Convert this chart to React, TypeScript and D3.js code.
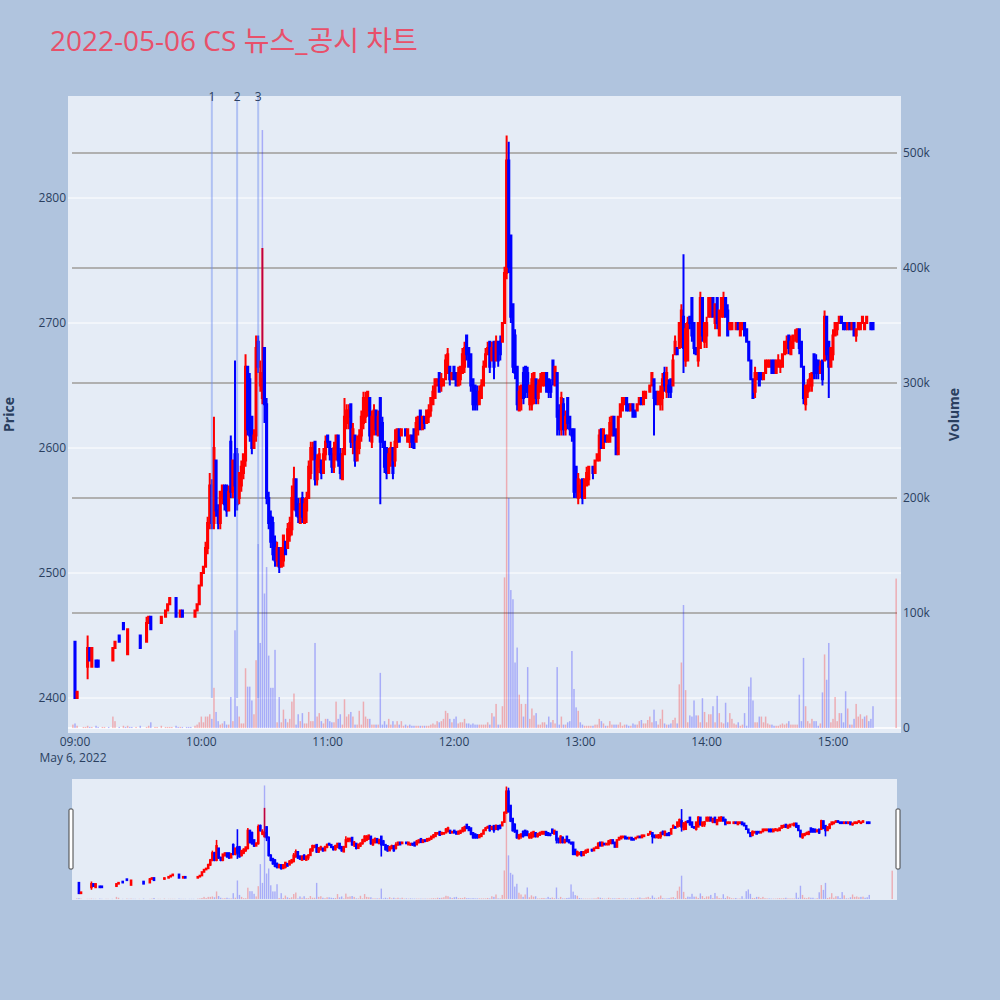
import React from "react";
import * as d3 from "d3";

// ---------- DATA (1-minute candles, minutes after 09:00) ----------
const earlyMinutes = [-1,0,1,4,5,6,7,8,10,11,13,14,16,18,19,21,23,24,25,26,27,29,31,34,35,36,38,39,41,43,44,45,46,48,49,50,51,53,54,55,57,58,59];
const minuteIdx = [...earlyMinutes, ...d3.range(60, 380), 390];

const openP = [
2450,2445,2400,2430,2430,2425,2440,2425,2430,2430,
2430,2430,2425,2430,2440,2450,2460,2445,2435,2435,
2435,2440,2450,2445,2460,2465,2460,2460,2460,2465,
2470,2475,2480,2480,2465,2465,2470,2465,2465,2465,
2465,2470,2475,
2490,2500,2505,2520,2540,2570,2540,2590,2550,2540,
2560,2570,2570,2550,2605,2565,2595,2595,2560,2570,
2580,2590,2665,2655,2625,2600,2610,2685,2650,2640,
2680,2635,2560,2545,2540,2525,2510,2520,2505,2510,
2525,2520,2530,2535,2555,2575,2555,2540,2560,2540,
2550,2560,2580,2595,2605,2575,2585,2590,2580,2595,
2610,2605,2595,2585,2595,2610,2595,2575,2595,2620,
2625,2635,2605,2610,2590,2600,2610,2620,2625,2630,
2640,2605,2615,2630,2610,2640,2620,2605,2600,2580,
2590,2600,2590,2605,2615,2610,2615,2615,2605,2605,
2610,2615,2605,2615,2630,2615,2625,2620,2625,2630,
2635,2640,2650,2660,2650,2650,2655,2660,2665,2655,
2665,2660,2650,2655,2660,2665,2690,2680,2675,2655,
2650,2645,2635,2640,2650,2665,2675,2685,2670,2685,
2670,2685,2685,2685,2700,2740,2830,2770,2715,2690,
2665,2630,2640,2660,2665,2660,2635,2635,2640,2655,
2640,2645,2650,2650,2660,2655,2650,2670,2650,2660,
2630,2615,2635,2615,2640,2625,2615,2615,2585,2560,
2565,2575,2560,2570,2575,2585,2585,2580,2590,2590,
2615,2600,2610,2605,2605,2610,2625,2615,2595,2625,
2630,2635,2640,2635,2630,2635,2630,2630,2635,2640,
2635,2640,2645,2645,2650,2655,2645,2635,2635,2640,
2660,2645,2650,2655,2650,2675,2680,2680,2685,2705,
2670,2670,2705,2720,2700,2680,2670,2680,2720,2685,
2690,2705,2705,2720,2700,2720,2690,2705,2705,2720,
2710,2695,2695,2700,2695,2700,2690,2695,2700,2695,
2685,2670,2655,2645,2655,2660,2660,2655,2660,2665,
2665,2670,2670,2660,2665,2665,2665,2675,2680,2690,
2675,2680,2690,2685,2695,2685,2665,2635,2645,2650,
2650,2675,2670,2670,2660,2670,2670,2705,2685,2665,
2675,2690,2695,2700,2705,2700,2700,2695,2700,2695,
2700,2690,2695,2695,2700,2695,2700,2700,2700,2700,
2715];

const highP = [
2450,2445,2405,2430,2430,2450,2440,2440,2430,2430,
2430,2430,2425,2440,2445,2450,2460,2445,2455,2435,
2435,2440,2450,2465,2465,2465,2460,2460,2465,2470,
2475,2480,2480,2480,2465,2470,2470,2465,2465,2465,
2470,2475,2490,
2500,2505,2525,2545,2580,2575,2625,2590,2555,2565,
2570,2570,2570,2570,2610,2590,2670,2600,2580,2590,
2595,2675,2665,2660,2625,2615,2690,2690,2670,2760,
2680,2640,2565,2550,2545,2530,2525,2520,2520,2530,
2525,2540,2545,2570,2585,2575,2560,2560,2565,2560,
2565,2590,2605,2605,2605,2595,2600,2590,2600,2610,
2610,2605,2600,2605,2610,2610,2600,2600,2640,2635,
2635,2635,2620,2610,2610,2615,2630,2645,2645,2645,
2640,2630,2635,2630,2630,2640,2625,2605,2600,2600,
2605,2600,2615,2615,2615,2615,2615,2615,2615,2610,
2610,2615,2625,2625,2630,2625,2625,2630,2635,2640,
2650,2655,2655,2660,2660,2655,2675,2680,2665,2660,
2665,2660,2665,2665,2680,2685,2690,2680,2675,2655,
2650,2650,2650,2655,2670,2680,2685,2685,2685,2685,
2690,2685,2690,2700,2745,2850,2845,2770,2715,2695,
2665,2650,2650,2665,2665,2665,2650,2660,2660,2655,
2655,2660,2660,2660,2660,2655,2655,2670,2665,2660,
2635,2645,2640,2630,2640,2625,2615,2615,2585,2580,
2575,2575,2575,2585,2585,2585,2585,2590,2595,2615,
2615,2615,2610,2610,2625,2625,2625,2615,2625,2635,
2640,2640,2640,2635,2635,2635,2630,2635,2640,2640,
2645,2645,2645,2650,2660,2655,2645,2645,2650,2660,
2665,2665,2655,2655,2675,2690,2680,2700,2715,2755,
2700,2705,2705,2720,2700,2680,2700,2725,2720,2700,
2705,2720,2720,2720,2715,2720,2710,2720,2725,2720,
2715,2700,2700,2700,2700,2700,2700,2700,2700,2695,
2685,2670,2655,2665,2660,2660,2660,2660,2670,2670,
2670,2670,2670,2670,2675,2670,2675,2685,2690,2690,
2690,2690,2695,2695,2695,2685,2665,2650,2655,2660,
2660,2675,2675,2670,2670,2670,2710,2705,2685,2680,
2695,2700,2700,2705,2705,2700,2700,2700,2700,2700,
2700,2695,2700,2700,2705,2700,2705,2700,2700,2700,
2715];

const lowP = [
2450,2400,2400,2430,2430,2415,2430,2425,2425,2425,
2430,2430,2425,2430,2440,2445,2455,2445,2435,2435,
2435,2440,2440,2445,2460,2455,2460,2460,2460,2465,
2470,2475,2480,2465,2465,2465,2465,2465,2465,2465,
2465,2470,2475,
2490,2500,2505,2515,2535,2535,2535,2545,2535,2535,
2555,2550,2545,2550,2560,2560,2545,2550,2555,2565,
2575,2585,2610,2605,2595,2600,2605,2660,2645,2635,
2620,2555,2535,2520,2510,2505,2505,2500,2505,2505,
2515,2520,2525,2530,2550,2545,2540,2540,2540,2540,
2540,2560,2575,2590,2570,2570,2580,2575,2580,2590,
2600,2590,2580,2580,2590,2585,2575,2575,2595,2615,
2615,2600,2595,2585,2590,2595,2605,2615,2620,2625,
2605,2600,2610,2610,2610,2555,2600,2580,2575,2580,
2585,2575,2585,2600,2605,2610,2615,2610,2605,2600,
2600,2600,2605,2610,2615,2615,2615,2620,2620,2625,
2635,2640,2650,2645,2645,2650,2655,2660,2650,2655,
2655,2650,2650,2650,2660,2660,2670,2665,2645,2630,
2630,2630,2635,2640,2650,2665,2675,2660,2670,2655,
2670,2665,2670,2685,2700,2735,2740,2700,2660,2655,
2630,2630,2630,2635,2640,2640,2630,2630,2635,2635,
2635,2645,2650,2650,2645,2640,2640,2650,2650,2610,
2610,2610,2610,2610,2615,2610,2605,2560,2560,2555,
2560,2555,2560,2570,2570,2585,2575,2580,2590,2590,
2600,2600,2605,2605,2605,2610,2610,2595,2595,2625,
2630,2635,2630,2630,2630,2625,2625,2630,2635,2635,
2635,2640,2645,2645,2650,2610,2635,2635,2630,2630,
2645,2640,2640,2640,2650,2675,2675,2680,2680,2660,
2665,2670,2695,2685,2675,2675,2665,2680,2685,2680,
2680,2705,2705,2705,2695,2695,2690,2705,2705,2705,
2690,2695,2695,2700,2695,2695,2690,2695,2690,2685,
2670,2655,2640,2640,2655,2650,2655,2655,2660,2665,
2665,2660,2660,2660,2665,2660,2665,2675,2675,2675,
2675,2680,2685,2685,2675,2665,2635,2630,2640,2645,
2645,2655,2655,2655,2660,2650,2670,2670,2640,2665,
2670,2690,2690,2700,2700,2695,2695,2695,2695,2695,
2690,2685,2695,2695,2700,2695,2700,2700,2695,2695,
2715];

const closeP = [
2450,2400,2405,2430,2430,2440,2430,2440,2425,2425,
2430,2430,2425,2440,2445,2445,2455,2445,2455,2435,
2435,2440,2440,2460,2465,2455,2460,2460,2465,2470,
2475,2480,2480,2465,2465,2470,2465,2465,2465,2465,
2470,2475,2490,
2500,2505,2520,2540,2570,2540,2600,2550,2540,2565,
2570,2555,2550,2565,2565,2590,2570,2555,2580,2585,
2595,2665,2615,2610,2600,2610,2680,2665,2660,2655,
2635,2560,2540,2525,2515,2510,2520,2505,2520,2530,
2515,2535,2540,2560,2575,2550,2545,2555,2545,2555,
2560,2585,2600,2600,2575,2590,2595,2580,2595,2605,
2605,2595,2585,2600,2610,2590,2580,2595,2625,2630,
2630,2605,2615,2590,2605,2610,2625,2640,2640,2645,
2610,2625,2630,2615,2625,2605,2605,2585,2580,2595,
2600,2580,2605,2615,2605,2615,2615,2610,2615,2610,
2605,2600,2620,2625,2615,2625,2620,2630,2630,2640,
2645,2655,2655,2645,2655,2655,2670,2675,2655,2660,
2655,2650,2660,2665,2675,2680,2675,2665,2650,2635,
2635,2635,2645,2650,2665,2675,2680,2665,2680,2665,
2685,2670,2675,2700,2740,2830,2745,2705,2665,2660,
2635,2645,2650,2640,2645,2645,2650,2655,2660,2640,
2650,2655,2660,2660,2645,2645,2645,2655,2665,2625,
2615,2640,2615,2625,2620,2615,2610,2565,2565,2575,
2570,2560,2575,2580,2585,2585,2580,2590,2595,2610,
2600,2615,2605,2610,2620,2625,2610,2595,2625,2635,
2640,2640,2630,2630,2635,2625,2625,2635,2640,2635,
2645,2645,2645,2650,2660,2640,2635,2645,2645,2655,
2650,2660,2645,2645,2670,2685,2675,2700,2710,2680,
2695,2700,2700,2690,2680,2675,2700,2720,2690,2700,
2700,2720,2720,2705,2715,2700,2710,2720,2720,2705,
2690,2700,2700,2700,2700,2695,2700,2700,2690,2685,
2670,2655,2640,2660,2660,2650,2655,2660,2670,2670,
2670,2660,2660,2670,2670,2670,2675,2685,2685,2680,
2685,2690,2690,2695,2680,2665,2640,2650,2650,2655,
2660,2660,2660,2660,2665,2655,2705,2675,2665,2680,
2690,2700,2700,2705,2700,2695,2695,2700,2695,2700,
2690,2695,2700,2700,2705,2700,2705,2700,2695,2695,
2715];

// volume in thousands
const volK = [
3,4,2,1,1,2,1,1,2,1,
1,1,1,10,6,1,2,1,2,1,
1,1,2,1,2,5,1,1,2,1,
1,1,1,2,1,1,1,1,1,1,
2,3,5,
10,5,10,10,12,8,35,14,6,3,
4,6,3,3,27,6,85,19,10,4,
4,52,36,36,24,12,59,160,74,520,
117,140,63,35,35,68,5,27,5,16,
8,5,8,23,30,3,12,6,13,4,
4,14,6,6,74,10,13,6,4,8,
8,6,5,5,23,8,12,3,25,10,
12,14,10,3,3,15,3,23,10,8,
8,3,3,3,3,48,3,6,3,8,
3,6,3,6,3,6,2,3,2,3,
2,2,2,2,2,2,2,2,2,3,
4,3,6,5,6,8,15,13,8,5,
8,10,4,5,5,8,4,4,3,4,
3,3,3,3,3,3,5,3,13,10,
21,3,3,19,131,400,200,120,112,57,
70,29,21,10,21,53,8,17,11,13,
3,3,5,5,3,10,5,7,4,53,
3,10,3,3,5,6,67,34,18,15,
5,3,2,2,2,2,2,3,3,8,
6,4,2,2,6,3,3,3,3,5,
2,3,3,2,2,4,3,3,6,7,
4,4,7,10,5,16,6,3,8,16,
4,3,3,4,7,9,4,38,57,107,
33,5,11,10,24,11,11,5,26,14,
5,12,12,19,5,28,13,5,4,22,
5,13,8,4,3,5,2,3,13,2,
36,44,24,5,5,10,10,5,10,4,
3,3,2,2,2,3,4,3,4,6,
3,3,3,3,29,6,61,19,6,4,
8,6,6,2,4,31,64,42,74,5,
8,27,6,13,13,5,32,17,3,3,
8,21,10,12,8,10,11,6,8,19,
130];

const newsLabels = ["1", "2", "3"];
const newsMinutes = [65, 77, 87];
const priceTicks = [2400, 2500, 2600, 2700, 2800];
const volTicks = [0, 100, 200, 300, 400, 500];
const volTickLabels = ["0", "100k", "200k", "300k", "400k", "500k"];
const hourTicks = [9, 10, 11, 12, 13, 14, 15];
const hourLabels = ["09:00", "10:00", "11:00", "12:00", "13:00", "14:00", "15:00"];
const dateLabel = "May 6, 2022";
const chartTitle = "2022-05-06 CS 뉴스_공시 차트";
const priceDomain = [2372, 2881.6];
const volDomain = [-4.3, 549.6];
const minuteDomain = [-3.32, 392.3];

// ---------- STYLE ----------
const FONT = "'Open Sans', 'Noto Sans CJK KR', verdana, arial, sans-serif";
const TXT = "#2a3f5f";
const INC = "#ff0000";
const DEC = "#0000ff";
const PAPER = "#b0c4de";
const PLOTBG = "#e5ecf6";

type Candle = { m: number; o: number; h: number; l: number; c: number; v: number; inc: boolean; volUp: boolean };

function buildCandles(): Candle[] {
  const out: Candle[] = [];
  let prevC: number | null = null;
  let prevInc = true;
  let prevVolUp = true;
  minuteIdx.forEach((m, i) => {
    const o = openP[i], h = highP[i], l = lowP[i], c = closeP[i];
    let inc: boolean;
    if (c > o) inc = true;
    else if (c < o) inc = false;
    else if (prevC !== null && c !== prevC) inc = c > prevC;
    else inc = prevInc;
    // volume colour: close compared with previous close
    let volUp: boolean;
    if (prevC === null) volUp = inc;
    else if (c > prevC) volUp = true;
    else if (c < prevC) volUp = false;
    else volUp = inc;
    out.push({ m, o, h, l, c, v: volK[i], inc, volUp });
    prevC = c;
    prevInc = inc;
    prevVolUp = volUp;
  });
  return out;
}

const toDate = (m: number) => new Date(new Date(2022, 4, 6, 9, 0, 0).getTime() + m * 60000);

function Candles(props: { data: Candle[]; x: d3.ScaleTime<number, number>; y: d3.ScaleLinear<number, number>; sw: number; bw: number }) {
  const { data, x, y, sw, bw } = props;
  return (
    <g>
      {data.map((d, i) => {
        const cx = x(toDate(d.m));
        const col = d.inc ? INC : DEC;
        const top = y(Math.max(d.o, d.c));
        const bot = y(Math.min(d.o, d.c));
        return (
          <g key={i}>
            <line x1={cx} x2={cx} y1={y(d.h)} y2={y(d.l)} stroke={col} strokeWidth={sw} />
            <rect x={cx - bw / 2} y={top} width={bw} height={Math.max(0, bot - top)} fill={col} stroke={col} strokeWidth={sw} />
          </g>
        );
      })}
    </g>
  );
}

function Volumes(props: { data: Candle[]; x: d3.ScaleTime<number, number>; y: d3.ScaleLinear<number, number>; w: number }) {
  const { data, x, y, w } = props;
  return (
    <g>
      {data.map((d, i) => {
        const cx = x(toDate(d.m));
        return (
          <rect key={i} x={cx - w / 2} y={y(d.v)} width={w} height={Math.max(0, y(0) - y(d.v))}
            fill={d.volUp ? INC : DEC} fillOpacity={0.27} />
        );
      })}
    </g>
  );
}

export default function App() {
  const data = buildCandles();
  const P = { l: 68, r: 901, t: 96, b: 733 };
  const S = { l: 72, r: 897, t: 779, b: 900 };

  const x = d3.scaleTime().domain([toDate(minuteDomain[0]), toDate(minuteDomain[1])]).range([P.l, P.r]);
  const y = d3.scaleLinear().domain(priceDomain).range([P.b, P.t]);
  const yv = d3.scaleLinear().domain(volDomain).range([P.b, P.t]);

  const xs = d3.scaleTime().domain([toDate(minuteDomain[0]), toDate(minuteDomain[1])]).range([S.l, S.r]);
  const ys = d3.scaleLinear().domain(priceDomain).range([S.b, S.t]);
  const yvs = d3.scaleLinear().domain(volDomain).range([S.b, S.t]);

  const midY = (P.t + P.b) / 2;

  return (
    <div style={{ position: "absolute", left: 0, top: 0, width: 1000, height: 1000 }}>
      <svg width={1000} height={1000} style={{ display: "block" }} fontFamily={FONT}>
        <defs>
          <clipPath id="mainClip"><rect x={P.l} y={P.t} width={P.r - P.l} height={P.b - P.t} /></clipPath>
          <clipPath id="sliderClip"><rect x={S.l} y={S.t} width={S.r - S.l} height={S.b - S.t} /></clipPath>
        </defs>
        <rect x={0} y={0} width={1000} height={1000} fill={PAPER} />
        <text x={50} y={51} fontSize={28} fill="#e8506a">{chartTitle}</text>

        {/* main plot */}
        <rect x={P.l} y={P.t} width={P.r - P.l} height={P.b - P.t} fill={PLOTBG} />
        {priceTicks.map((p) => (
          <line key={"pg" + p} x1={P.l} x2={P.r} y1={y(p)} y2={y(p)} stroke="#ffffff" strokeWidth={1} />
        ))}
        {volTicks.filter((v) => v > 0).map((v) => (
          <line key={"vg" + v} x1={S.l} x2={S.r} y1={yv(v)} y2={yv(v)} stroke="#b0b0b0" strokeWidth={2} />
        ))}
        <line x1={P.l} x2={P.r} y1={yv(0)} y2={yv(0)} stroke="#ffffff" strokeWidth={1.5} />
        <g clipPath="url(#mainClip)">
          <Candles data={data} x={x} y={y} sw={2} bw={1.1} />
          <Volumes data={data} x={x} y={yv} w={1.5} />
          {newsMinutes.map((m, i) => (
            <line key={"n" + i} x1={x(toDate(m))} x2={x(toDate(m))} y1={y(2400)} y2={P.t}
              stroke="#6f8ff0" strokeOpacity={0.45} strokeWidth={2} />
          ))}
        </g>
        {newsMinutes.map((m, i) => (
          <text key={"nl" + i} x={x(toDate(m))} y={101} fontSize={12} fill={TXT} textAnchor="middle">{newsLabels[i]}</text>
        ))}

        {/* axes labels */}
        {priceTicks.map((p) => (
          <text key={"pt" + p} x={P.l - 2} y={y(p)} dy="0.35em" fontSize={12} fill={TXT} textAnchor="end">{p}</text>
        ))}
        {volTicks.map((v, i) => (
          <text key={"vt" + v} x={P.r + 2} y={yv(v)} dy="0.35em" fontSize={12} fill={TXT} textAnchor="start">{volTickLabels[i]}</text>
        ))}
        {hourTicks.map((h, i) => (
          <text key={"ht" + h} x={x(new Date(2022, 4, 6, h, 0, 0))} y={746} fontSize={12} fill={TXT} textAnchor="middle">{hourLabels[i]}</text>
        ))}
        <text x={x(new Date(2022, 4, 6, 9, 0, 0)) - 2} y={762} fontSize={12} fill={TXT} textAnchor="middle">{dateLabel}</text>
        <text transform={`translate(14,${midY}) rotate(-90)`} fontSize={14} fontWeight="bold" fill={TXT} textAnchor="middle">Price</text>
        <text transform={`translate(959,${midY}) rotate(-90)`} fontSize={14} fontWeight="bold" fill={TXT} textAnchor="middle">Volume</text>

        {/* range slider */}
        <rect x={S.l} y={S.t} width={S.r - S.l} height={S.b - S.t} fill={PLOTBG} />
        <g clipPath="url(#sliderClip)">
          <Candles data={data} x={xs} y={ys} sw={1.6} bw={1} />
          <Volumes data={data} x={xs} y={yvs} w={1.4} />
        </g>
        <rect x={S.l - 3} y={S.t + 30} width={4} height={60} fill="#ffffff" stroke="#444" strokeWidth={1} rx={1} />
        <rect x={S.r - 1} y={S.t + 30} width={4} height={60} fill="#ffffff" stroke="#444" strokeWidth={1} rx={1} />
      </svg>
    </div>
  );
}
